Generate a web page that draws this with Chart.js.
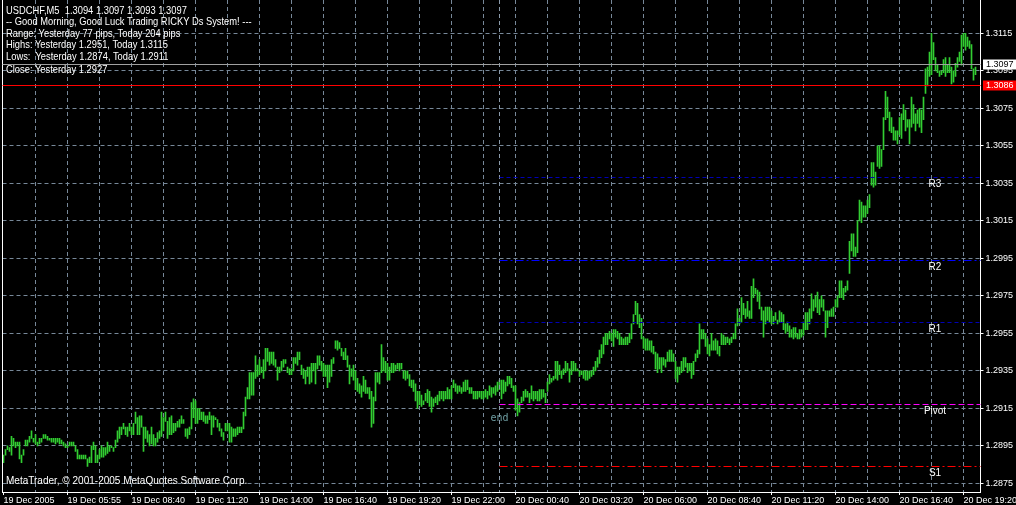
<!DOCTYPE html>
<html>
<head>
<meta charset="utf-8">
<script src="https://cdn.jsdelivr.net/npm/chart.js@4.4.0/dist/chart.umd.min.js"></script>
<style>
  html, body { margin: 0; padding: 0; background: #000; overflow: hidden; }
  #wrap { position: relative; width: 1016px; height: 505px; background: #000; }
  #c { display: block; }
  .txt { position: absolute; left: 6px; color: #fff; white-space: pre;
         font: 11px 'Liberation Sans', Arial, sans-serif; line-height: 12px;
         transform: scaleX(0.85); transform-origin: 0 0; }
</style>
</head>
<body>
<div id="wrap">
  <canvas id="c" width="1016" height="505"></canvas>
  <div class="txt" style="top:4px">USDCHF,M5  1.3094 1.3097 1.3093 1.3097</div>
  <div class="txt" style="top:15px">-- Good Morning, Good Luck Trading RICKY Ds System! ---</div>
  <div class="txt" style="top:27px">Range: Yesterday 77 pips, Today 204 pips</div>
  <div class="txt" style="top:38px">Highs: Yesterday 1.2951, Today 1.3115</div>
  <div class="txt" style="top:50px">Lows:  Yesterday 1.2874, Today 1.2911</div>
  <div class="txt" style="top:63px">Close: Yesterday 1.2927</div>
  <div class="txt" style="top:474px;transform:scaleX(0.91)">MetaTrader, © 2001-2005 MetaQuotes Software Corp.</div>
</div>
<script>
// --- data (USDCHF M5, one bar per 5 min) ---
const tickLabels = ["19 Dec 2005", "19 Dec 05:55", "19 Dec 08:40", "19 Dec 11:20", "19 Dec 14:00",
  "19 Dec 16:40", "19 Dec 19:20", "19 Dec 22:00", "20 Dec 00:40", "20 Dec 03:20", "20 Dec 06:00",
  "20 Dec 08:40", "20 Dec 11:20", "20 Dec 14:00", "20 Dec 16:40", "20 Dec 19:20"];
const barsPerLabel = 32;
const barsPerGrid = 16;
const emptyBarsRight = 2;

const highs = [
  1.2890,1.2893,1.2895,1.2894,1.2900,1.2899,1.2897,1.2897,1.2897,1.2890,
  1.2893,1.2898,1.2898,1.2900,1.2903,1.2899,1.2901,1.2897,1.2899,1.2899,
  1.2901,1.2901,1.2900,1.2899,1.2899,1.2899,1.2899,1.2899,1.2899,1.2898,
  1.2897,1.2896,1.2895,1.2897,1.2897,1.2897,1.2895,1.2893,1.2890,1.2890,
  1.2890,1.2890,1.2888,1.2889,1.2895,1.2897,1.2895,1.2890,1.2893,1.2895,
  1.2894,1.2894,1.2897,1.2895,1.2895,1.2894,1.2898,1.2903,1.2905,1.2905,
  1.2907,1.2905,1.2905,1.2907,1.2905,1.2907,1.2913,1.2910,1.2911,1.2911,
  1.2905,1.2905,1.2903,1.2901,1.2905,1.2901,1.2899,1.2902,1.2903,1.2913,
  1.2910,1.2913,1.2908,1.2910,1.2911,1.2907,1.2907,1.2908,1.2909,1.2911,
  1.2909,1.2904,1.2904,1.2905,1.2918,1.2920,1.2919,1.2915,1.2915,1.2913,
  1.2913,1.2911,1.2911,1.2913,1.2911,1.2911,1.2910,1.2909,1.2907,1.2904,
  1.2902,1.2907,1.2907,1.2907,1.2905,1.2904,1.2904,1.2905,1.2905,1.2905,
  1.2913,1.2921,1.2926,1.2934,1.2934,1.2934,1.2943,1.2938,1.2941,1.2937,
  1.2941,1.2947,1.2947,1.2945,1.2945,1.2945,1.2941,1.2937,1.2937,1.2940,
  1.2941,1.2941,1.2937,1.2936,1.2936,1.2942,1.2942,1.2945,1.2945,1.2938,
  1.2936,1.2935,1.2937,1.2937,1.2939,1.2939,1.2939,1.2943,1.2943,1.2940,
  1.2939,1.2938,1.2938,1.2938,1.2941,1.2942,1.2951,1.2951,1.2950,1.2947,
  1.2945,1.2947,1.2943,1.2938,1.2936,1.2938,1.2935,1.2931,1.2928,1.2927,
  1.2932,1.2930,1.2926,1.2926,1.2924,1.2921,1.2934,1.2934,1.2934,1.2949,
  1.2942,1.2940,1.2939,1.2937,1.2939,1.2939,1.2938,1.2939,1.2939,1.2939,
  1.2935,1.2935,1.2935,1.2933,1.2930,1.2930,1.2928,1.2924,1.2924,1.2922,
  1.2919,1.2923,1.2925,1.2924,1.2921,1.2920,1.2921,1.2922,1.2924,1.2924,
  1.2924,1.2924,1.2926,1.2925,1.2927,1.2930,1.2928,1.2927,1.2927,1.2926,
  1.2929,1.2930,1.2930,1.2926,1.2926,1.2924,1.2924,1.2924,1.2924,1.2924,
  1.2924,1.2925,1.2924,1.2927,1.2926,1.2926,1.2927,1.2929,1.2930,
  1.2930,1.2930,1.2929,1.2932,1.2932,1.2931,1.2927,1.2927,1.2920,1.2918,
  1.2921,1.2924,1.2925,1.2924,1.2923,1.2927,1.2924,1.2924,1.2924,1.2925,
  1.2925,1.2925,1.2923,1.2929,1.2933,1.2931,1.2932,1.2940,1.2940,1.2938,
  1.2935,1.2936,1.2940,1.2939,1.2936,1.2940,1.2940,1.2939,1.2936,1.2935,
  1.2935,1.2935,1.2935,1.2935,1.2935,1.2935,1.2937,1.2940,1.2942,1.2946,
  1.2949,1.2953,1.2955,1.2955,1.2956,1.2955,1.2957,1.2957,1.2956,1.2955,
  1.2953,1.2952,1.2953,1.2953,1.2955,1.2960,1.2965,1.2972,1.2971,1.2965,
  1.2963,1.2953,1.2952,1.2952,1.2951,1.2951,1.2948,1.2945,1.2944,1.2942,
  1.2942,1.2942,1.2941,1.2945,1.2946,1.2946,1.2944,1.2940,1.2937,1.2937,
  1.2940,1.2942,1.2942,1.2939,1.2939,1.2939,1.2940,1.2944,1.2946,1.2960,
  1.2957,1.2957,1.2955,1.2952,1.2949,1.2955,1.2951,1.2952,1.2951,1.2948,
  1.2955,1.2954,1.2953,1.2953,1.2952,1.2953,1.2955,1.2960,1.2968,1.2963,
  1.2974,1.2971,1.2968,1.2972,1.2967,1.2980,1.2984,1.2979,1.2978,1.2977,
  1.2969,1.2967,1.2969,1.2969,1.2969,1.2967,1.2964,1.2966,1.2962,1.2967,
  1.2966,1.2965,1.2960,1.2961,1.2959,1.2957,1.2958,1.2958,1.2955,1.2957,
  1.2957,1.2961,1.2966,1.2966,1.2968,1.2976,1.2973,1.2975,1.2977,1.2973,
  1.2975,1.2973,1.2967,1.2967,1.2967,1.2968,1.2969,1.2973,1.2975,1.2983,
  1.2983,1.2979,1.2980,1.2983,1.3004,1.3008,1.3008,1.3001,1.3015,1.3026,
  1.3025,1.3023,1.3023,1.3026,1.3029,1.3046,1.3046,1.3041,1.3055,1.3055,
  1.3053,1.3070,1.3084,1.3081,1.3073,1.3070,1.3065,1.3063,1.3063,1.3070,
  1.3072,1.3077,1.3074,1.3069,1.3069,1.3081,1.3077,1.3072,1.3074,1.3075,
  1.3074,1.3081,1.3096,1.3097,1.3105,1.3115,1.3110,1.3102,1.3098,1.3095,
  1.3095,1.3101,1.3102,1.3098,1.3102,1.3097,1.3095,1.3099,1.3102,1.3105,
  1.3114,1.3115,1.3115,1.3113,1.3111,1.3109,1.3096,1.3097
];
const lows = [
  1.2886,1.2890,1.2893,1.2892,1.2890,1.2895,1.2894,1.2895,1.2888,1.2886,
  1.2890,1.2895,1.2895,1.2897,1.2899,1.2897,1.2896,1.2895,1.2896,1.2897,
  1.2899,1.2899,1.2898,1.2898,1.2897,1.2897,1.2896,1.2897,1.2896,1.2896,
  1.2895,1.2894,1.2894,1.2895,1.2895,1.2895,1.2892,1.2888,1.2888,1.2888,
  1.2888,1.2888,1.2884,1.2886,1.2886,1.2893,1.2886,1.2886,1.2888,1.2889,
  1.2889,1.2890,1.2891,1.2892,1.2894,1.2892,1.2894,1.2897,1.2899,1.2901,
  1.2904,1.2901,1.2900,1.2903,1.2901,1.2901,1.2907,1.2901,1.2901,1.2905,
  1.2892,1.2899,1.2897,1.2895,1.2896,1.2895,1.2895,1.2897,1.2899,1.2900,
  1.2903,1.2908,1.2899,1.2901,1.2901,1.2902,1.2903,1.2905,1.2905,1.2907,
  1.2907,1.2900,1.2899,1.2901,1.2904,1.2910,1.2907,1.2907,1.2909,1.2909,
  1.2908,1.2907,1.2907,1.2909,1.2901,1.2905,1.2909,1.2905,1.2903,1.2900,
  1.2898,1.2903,1.2903,1.2897,1.2897,1.2900,1.2900,1.2901,1.2902,1.2902,
  1.2904,1.2911,1.2920,1.2920,1.2922,1.2922,1.2931,1.2932,1.2933,1.2934,
  1.2931,1.2935,1.2940,1.2938,1.2939,1.2938,1.2937,1.2930,1.2934,1.2935,
  1.2937,1.2939,1.2934,1.2933,1.2933,1.2935,1.2939,1.2938,1.2941,1.2933,
  1.2931,1.2928,1.2932,1.2928,1.2929,1.2935,1.2928,1.2936,1.2938,1.2935,
  1.2932,1.2932,1.2926,1.2929,1.2932,1.2939,1.2947,1.2946,1.2947,1.2943,
  1.2941,1.2941,1.2937,1.2928,1.2932,1.2930,1.2925,1.2924,1.2923,1.2921,
  1.2924,1.2923,1.2923,1.2920,1.2905,1.2907,1.2919,1.2929,1.2928,1.2934,
  1.2935,1.2934,1.2930,1.2930,1.2934,1.2934,1.2935,1.2936,1.2935,1.2936,
  1.2931,1.2930,1.2931,1.2927,1.2926,1.2924,1.2919,1.2915,1.2917,1.2916,
  1.2917,1.2919,1.2918,1.2916,1.2913,1.2916,1.2918,1.2917,1.2919,1.2920,
  1.2919,1.2920,1.2920,1.2920,1.2920,1.2926,1.2924,1.2923,1.2924,1.2923,
  1.2924,1.2924,1.2925,1.2923,1.2923,1.2920,1.2920,1.2920,1.2921,1.2920,
  1.2920,1.2921,1.2920,1.2922,1.2921,1.2923,1.2922,1.2924,1.2925,
  1.2920,1.2923,1.2924,1.2927,1.2928,1.2926,1.2924,1.2914,1.2911,1.2913,
  1.2918,1.2919,1.2921,1.2921,1.2918,1.2920,1.2919,1.2920,1.2919,1.2919,
  1.2920,1.2921,1.2918,1.2924,1.2928,1.2929,1.2930,1.2931,1.2930,1.2933,
  1.2931,1.2933,1.2934,1.2935,1.2929,1.2933,1.2935,1.2935,1.2935,1.2932,
  1.2933,1.2931,1.2930,1.2930,1.2931,1.2932,1.2933,1.2935,1.2937,1.2939,
  1.2942,1.2944,1.2949,1.2949,1.2952,1.2951,1.2948,1.2953,1.2952,1.2949,
  1.2949,1.2949,1.2949,1.2949,1.2950,1.2952,1.2960,1.2965,1.2960,1.2958,
  1.2952,1.2947,1.2946,1.2946,1.2946,1.2945,1.2944,1.2936,1.2934,1.2936,
  1.2934,1.2938,1.2937,1.2940,1.2940,1.2940,1.2940,1.2931,1.2929,1.2933,
  1.2934,1.2935,1.2937,1.2934,1.2935,1.2931,1.2933,1.2940,1.2942,1.2944,
  1.2952,1.2952,1.2948,1.2944,1.2943,1.2946,1.2946,1.2946,1.2944,1.2943,
  1.2949,1.2949,1.2949,1.2950,1.2949,1.2950,1.2952,1.2952,1.2959,1.2960,
  1.2961,1.2965,1.2963,1.2964,1.2963,1.2963,1.2974,1.2976,1.2972,1.2968,
  1.2962,1.2953,1.2960,1.2962,1.2961,1.2960,1.2960,1.2962,1.2960,1.2961,
  1.2961,1.2957,1.2955,1.2956,1.2953,1.2953,1.2952,1.2953,1.2952,1.2952,
  1.2953,1.2954,1.2957,1.2957,1.2960,1.2963,1.2967,1.2969,1.2966,1.2965,
  1.2969,1.2967,1.2953,1.2958,1.2964,1.2964,1.2964,1.2969,1.2969,1.2974,
  1.2974,1.2973,1.2977,1.2978,1.2987,1.2999,1.2996,1.2996,1.2998,1.3015,
  1.3014,1.3017,1.3017,1.3019,1.3022,1.3034,1.3033,1.3034,1.3044,1.3043,
  1.3044,1.3053,1.3069,1.3070,1.3063,1.3062,1.3058,1.3058,1.3056,1.3061,
  1.3059,1.3069,1.3063,1.3065,1.3056,1.3065,1.3067,1.3063,1.3067,1.3065,
  1.3062,1.3069,1.3083,1.3087,1.3092,1.3093,1.3101,1.3095,1.3094,1.3092,
  1.3093,1.3094,1.3092,1.3094,1.3094,1.3088,1.3089,1.3092,1.3097,1.3100,
  1.3098,1.3108,1.3106,1.3108,1.3107,1.3096,1.3090,1.3093
];

const yTicks = [1.2875, 1.2895, 1.2915, 1.2935, 1.2955, 1.2975, 1.2995,
  1.3015, 1.3035, 1.3055, 1.3075, 1.3095, 1.3115];
const yMin = 1.287036;
const yMax = 1.313276;

// pivot levels for today (start at the day separator bar)
const dayStartBar = 248;
const pivotLevel = 1.2917;
const r1Level = 1.2961;
const r2Level = 1.2994;
const r3Level = 1.3038;
const s1Level = 1.2884;
const bidPrice = 1.30982;
const bidLabel = "1.3097";
const askPrice = 1.30872;
const askLabel = "1.3086";

const GRID = '#778899';
const FONT = "'Liberation Sans', Arial, sans-serif";

const nBars = highs.length + emptyBarsRight;
const categories = [];
for (let i = 0; i < nBars; i++) categories.push(String(i));
const ranges = highs.map((h, i) => [lows[i], h]);

// lines, labels and price boxes drawn on top of the bars
const overlay = {
  id: 'overlay',
  afterDatasetsDraw(chart) {
    const { ctx, chartArea: a, scales: { x, y } } = chart;
    const yPix = v => Math.round(y.getPixelForValue(v) - 0.5) + 0.5;
    const x0 = x.getPixelForValue(dayStartBar);

    ctx.save();
    // left frame
    ctx.strokeStyle = '#fff';
    ctx.lineWidth = 1;
    ctx.beginPath();
    ctx.moveTo(2.5, a.top);
    ctx.lineTo(2.5, a.bottom);
    ctx.stroke();

    // day separator
    ctx.setLineDash([4, 3]);
    ctx.strokeStyle = '#8a9aaa';
    ctx.beginPath();
    ctx.moveTo(Math.floor(x0) + 0.5, a.top);
    ctx.lineTo(Math.floor(x0) + 0.5, a.bottom);
    ctx.stroke();

    const hline = (v, color, dash, from) => {
      ctx.setLineDash(dash);
      ctx.strokeStyle = color;
      ctx.beginPath();
      ctx.moveTo(from, yPix(v));
      ctx.lineTo(a.right, yPix(v));
      ctx.stroke();
    };
    hline(bidPrice, '#a0a0a0', [], a.left);
    hline(askPrice, '#ff0000', [], a.left);
    hline(r3Level, '#0000b4', [4, 3], x0);
    hline(r2Level, '#0000ff', [8, 3, 2, 3], x0);
    hline(r1Level, '#0000b4', [4, 3], x0);
    hline(pivotLevel, '#ff00ff', [6, 3], x0);
    hline(s1Level, '#ff0000', [8, 3, 2, 3], x0);
    ctx.setLineDash([]);

    // level names
    ctx.fillStyle = '#fff';
    ctx.font = '10px ' + FONT;
    ctx.textAlign = 'center';
    ctx.textBaseline = 'middle';
    [[r3Level, 'R3'], [r2Level, 'R2'], [r1Level, 'R1'], [pivotLevel, 'Pivot'], [s1Level, 'S1']]
      .forEach(([v, t]) => ctx.fillText(t, 935, yPix(v) + 7));

    // "end" marker of yesterday
    ctx.fillStyle = '#6f9ea2';
    ctx.font = '10px "DejaVu Sans Mono", monospace';
    ctx.fillText('end', x0, y.getPixelForValue(pivotLevel) + 14);

    // price boxes on the axis
    const box = (v, text, bg, fg) => {
      const cy = yPix(v);
      ctx.fillStyle = bg;
      ctx.fillRect(983, cy - 5, 33, 10);
      ctx.fillStyle = fg;
      ctx.font = '9px ' + FONT;
      ctx.textAlign = 'left';
      ctx.fillText(text, 986, cy + 0.5);
    };
    box(bidPrice, bidLabel, '#fff', '#000');
    box(askPrice, askLabel, '#ff0000', '#fff');
    ctx.restore();
  }
};

new Chart(document.getElementById('c'), {
  type: 'bar',
  data: {
    labels: categories,
    datasets: [{
      data: ranges,
      backgroundColor: '#32cd32',
      borderWidth: 0,
      barThickness: 1,
      grouped: false
    }]
  },
  options: {
    responsive: false,
    animation: false,
    events: [],
    layout: { padding: { left: 2.5, top: 0, right: 0, bottom: 0 } },
    plugins: { legend: { display: false }, tooltip: { enabled: false } },
    scales: {
      x: {
        type: 'category',
        offset: true,
        afterBuildTicks: s => { s.ticks = s.ticks.filter(t => t.value % barsPerGrid === 0); },
        afterFit: s => { s.height = 13; s.paddingLeft = 0; s.paddingRight = 0; },
        grid: {
          offset: false,
          color: c => c.index === 0 ? 'rgba(0,0,0,0)' : GRID,
          tickColor: c => c.index % 2 === 0 ? '#fff' : 'rgba(0,0,0,0)',
          tickLength: 3,
          tickBorderDash: [],
          borderDash: [4, 3]
        },
        border: { color: '#fff', dash: [4, 3] },
        ticks: {
          autoSkip: false,
          maxRotation: 0,
          minRotation: 0,
          align: 'start',
          padding: 0,
          color: '#fff',
          font: { family: FONT, size: 9 },
          callback: v => v % barsPerLabel === 0 ? tickLabels[v / barsPerLabel] : ''
        }
      },
      y: {
        type: 'linear',
        position: 'right',
        min: yMin,
        max: yMax,
        afterBuildTicks: s => { s.ticks = yTicks.map(v => ({ value: v })); },
        afterFit: s => { s.width = 35.5; s.paddingTop = 0; s.paddingBottom = 0; },
        grid: {
          color: GRID,
          tickColor: '#fff',
          tickLength: 3,
          tickBorderDash: [],
          borderDash: [4, 3]
        },
        border: { color: '#fff', dash: [4, 3] },
        ticks: {
          padding: 2,
          color: '#fff',
          font: { family: FONT, size: 9 },
          callback: v => v.toFixed(4)
        }
      }
    }
  },
  plugins: [overlay]
});
</script>
</body>
</html>
